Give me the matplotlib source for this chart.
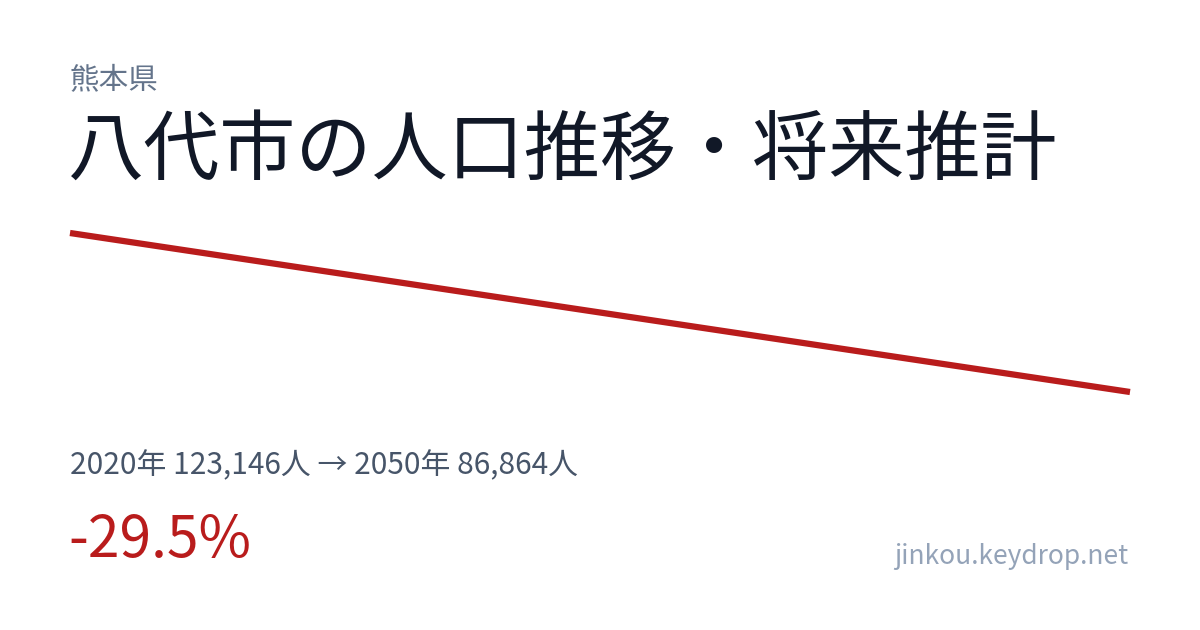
import matplotlib
matplotlib.use('Agg')
import matplotlib.pyplot as plt

plt.rcParams['font.family'] = ['Noto Sans CJK JP', 'DejaVu Sans']

# data
years = [2020, 2050]
population = [123146, 86864]
prefecture = '熊本県'
title = '八代市の人口推移・将来推計'
change_pct = (population[-1] - population[0]) / population[0] * 100
summary = f'{years[0]}年 {population[0]:,}人 → {years[-1]}年 {population[-1]:,}人'

RED = '#b91c1c'

fig = plt.figure(figsize=(12, 6.3), dpi=100)
fig.patch.set_facecolor('white')

# line chart area
ax = fig.add_axes([70 / 1200, 1 - 392 / 630, 1060 / 1200, 159 / 630])
ax.plot(years, population, color=RED, linewidth=4.5, solid_capstyle='butt', clip_on=False)
ax.set_xlim(years[0], years[-1])
ax.set_ylim(min(population), max(population))
ax.axis('off')

# texts
fig.text(70 / 1200, 1 - 80 / 630, prefecture, fontsize=21.3, color='#64748b', va='center', ha='left')
fig.text(68 / 1200, 1 - 152 / 630, title, fontsize=54.8, color='#111827', va='center', ha='left')
fig.text(70 / 1200, 1 - 466 / 630, summary, fontsize=21.5, color='#475569', va='center', ha='left')
fig.text(68 / 1200, 1 - 541 / 630, f'{change_pct:.1f}%', fontsize=41, color=RED, va='center', ha='left')
fig.text(1128 / 1200, 1 - 556 / 630, 'jinkou.keydrop.net', fontsize=19, color='#94a3b8', va='center', ha='right')

plt.savefig('out.png', dpi=100, facecolor='white')
